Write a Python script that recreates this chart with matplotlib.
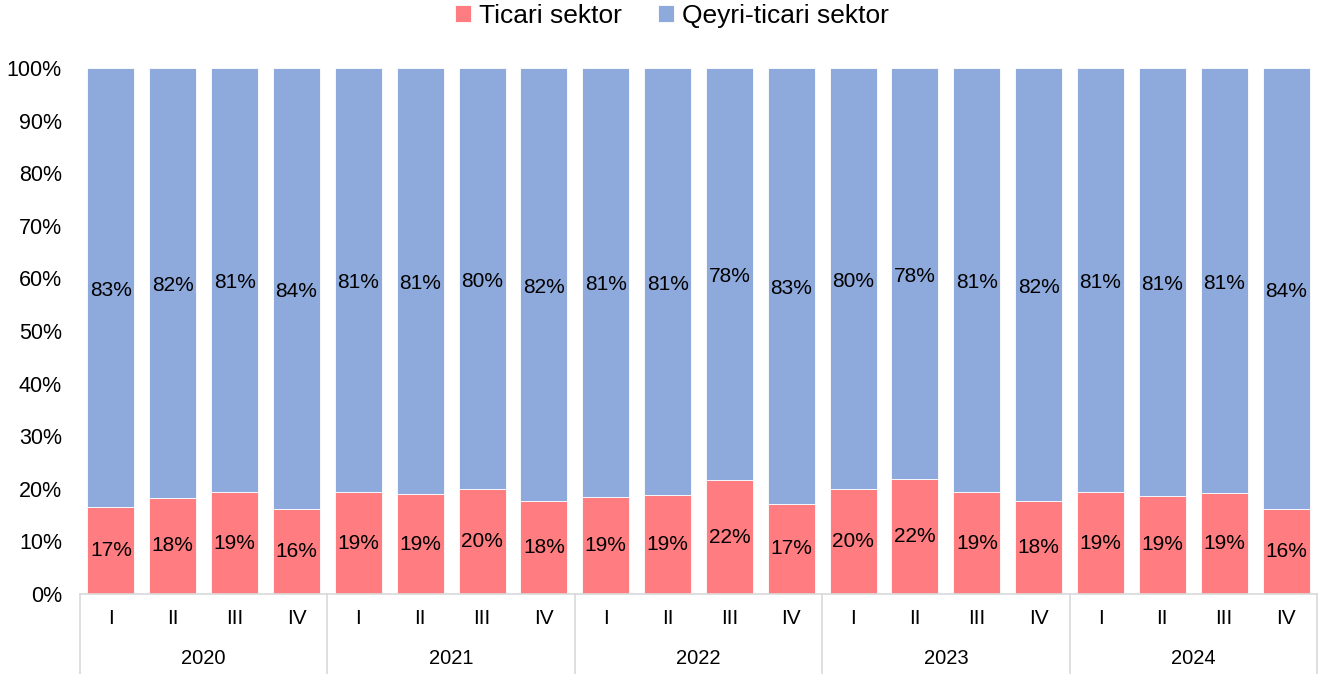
import numpy as np
import matplotlib.pyplot as plt
import matplotlib.transforms as mtransforms

plt.rcParams['font.family'] = ['Liberation Sans', 'DejaVu Sans']

years = ['2020', '2021', '2022', '2023', '2024']
quarters = ['I', 'II', 'III', 'IV']
# share of trade sector (bar heights) and printed labels
ticari = [16.5, 18.3, 19.3, 16.2, 19.3, 19.0, 20.0, 17.7, 18.5, 18.8,
          21.6, 17.2, 20.0, 21.8, 19.3, 17.7, 19.3, 18.7, 19.2, 16.2]
ticari_lbl = [17, 18, 19, 16, 19, 19, 20, 18, 19, 19,
              22, 17, 20, 22, 19, 18, 19, 19, 19, 16]
qeyri_lbl = [83, 82, 81, 84, 81, 81, 80, 82, 81, 81,
             78, 83, 80, 78, 81, 82, 81, 81, 81, 84]

red = '#FF7C80'
blue = '#8EA9DB'
grid_c = '#D9D9D9'

W, H = 1322, 674
fig = plt.figure(figsize=(W / 100, H / 100), dpi=100)
ax = fig.add_axes([80 / W, (H - 594) / H, (1317 - 80) / W, (594 - 68) / H])

n = len(ticari)
x = np.arange(n)
t = np.array(ticari) / 100
q = 1 - t
ax.bar(x, t, width=0.76, color=red, edgecolor='white', linewidth=0.6, label='Ticari sektor')
ax.bar(x, q, bottom=t, width=0.76, color=blue, edgecolor='white', linewidth=0.6,
       label='Qeyri-ticari sektor')

for i in range(n):
    ax.text(x[i], t[i] / 2, f'{ticari_lbl[i]}%', ha='center', va='center', fontsize=15)
    ax.text(x[i], t[i] + q[i] / 2 - 0.005, f'{qeyri_lbl[i]}%', ha='center', va='center',
            fontsize=15)

ax.set_xlim(-0.5, n - 0.5)
ax.set_ylim(0, 1)
ax.set_yticks(np.arange(0, 1.01, 0.1))
ax.set_yticklabels([f'{v}%' for v in range(0, 101, 10)], fontsize=15.5)
ax.tick_params(axis='y', length=0, pad=13)
ax.set_xticks([])
for s in ['top', 'right', 'left']:
    ax.spines[s].set_visible(False)
ax.spines['bottom'].set_color(grid_c)
ax.spines['bottom'].set_linewidth(1.2)

# two-level category axis
tr = mtransforms.blended_transform_factory(ax.transData, ax.transAxes)
axh = 594 - 68
for i in range(n):
    ax.text(x[i], -(619 - 594) / axh, quarters[i % 4], transform=tr,
            ha='center', va='center', fontsize=15)
for g, yr in enumerate(years):
    ax.text(g * 4 + 1.5, -(659 - 594) / axh, yr, transform=tr,
            ha='center', va='center', fontsize=14.5)
for b in np.arange(-0.5, n, 4):
    ax.plot([b, b], [0, -(H - 594) / axh], transform=tr, color=grid_c,
            lw=1.2, clip_on=False)

fig.legend(loc='center', bbox_to_anchor=(672 / W, 1 - 16 / H), ncol=2, frameon=False,
           fontsize=19, handlelength=0.6, handleheight=0.6, handletextpad=0.3,
           columnspacing=1.4)

fig.savefig('out.png', dpi=100)
